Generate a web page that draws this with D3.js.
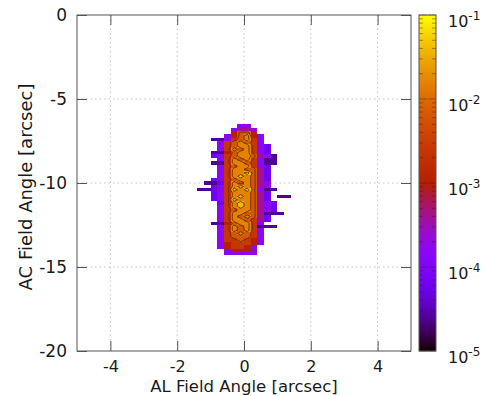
<!DOCTYPE html>
<html>
<head>
<meta charset="utf-8">
<script src="https://cdn.jsdelivr.net/npm/d3@7"></script>
<style>
  body { margin: 0; background: #fff; }
  text { font-family: "DejaVu Sans", sans-serif; fill: #1a1a1a; }
</style>
</head>
<body>
<svg id="chart" width="485" height="396"></svg>
<script>
// axis ticks
var xTicks = [-4, -2, 0, 2, 4];
var yTicks = [0, -5, -10, -15, -20];
var cbExponents = [-1, -2, -3, -4, -5];

// cell grid of the map (arcsec)
var cellX0 = -1.4, cellDx = 0.2, cellY0 = -6.5, cellDy = 0.2;

// log10 value for each level digit used in levelRows
var levelLog = [-5.0, -4.6, -4.2, -3.8, -3.4, -3.0, -2.6, -2.2, -1.8, -1.4];

// one string per row (top to bottom), one char per column, '.' = empty
var levelRows = [
  "......33......",
  ".....3443.....",
  ".....5775.....",
  "....357853....",
  "..11367863....",
  "...3678763....",
  "...36788632...",
  "...36878632...",
  "..115788632...",
  "..2367887431..",
  "...368786311..",
  "..1168876311..",
  "...36788632...",
  "...36887742...",
  "...36889742...",
  "...36898742...",
  "..236788742...",
  ".1126878743...",
  "..236898743...",
  "112369897311..",
  "..236888742...",
  "..236898742.11",
  "..236988742...",
  "...268987432..",
  "...368987432..",
  "...367887432..",
  "...3688774111.",
  "...36878742...",
  "...36887642...",
  "..11578863....",
  "...368786111..",
  "...3687863....",
  "...3678763....",
  "...3677763....",
  "...3667653....",
  "...3566653....",
  "...356653.....",
  "....35553.....",
  "....33333....."
];

// contour levels (log10)
var contourLevels = [-2.4, -2.0, -1.6];

var svg = d3.select("#chart");
var plot = {left: 77, right: 411, top: 15, bottom: 351};

var x = d3.scaleLinear().domain([-5, 5]).range([plot.left, plot.right]);
var y = d3.scaleLinear().domain([0, -20]).range([plot.top, plot.bottom]);
var cb = d3.scaleLog().domain([1e-5, 1e-1]).range([plot.bottom, plot.top]);

// gnuplot default palette (rgbformulae 7,5,15)
function palette(t) {
  t = Math.max(0, Math.min(1, t));
  return d3.rgb(255 * Math.sqrt(t), 255 * t * t * t, 255 * Math.max(0, Math.sin(2 * Math.PI * t)));
}
function colorOf(logv) { return palette((logv + 5) / 4); }

// grid lines
var grid = svg.append("g").attr("stroke", "#c4c4c4").attr("stroke-dasharray", "1.5,3").attr("stroke-width", 1);
xTicks.forEach(function (t) {
  grid.append("line").attr("x1", x(t)).attr("x2", x(t)).attr("y1", plot.top).attr("y2", plot.bottom);
});
yTicks.slice(1, -1).forEach(function (t) {
  grid.append("line").attr("x1", plot.left).attr("x2", plot.right).attr("y1", y(t)).attr("y2", y(t));
});

// map cells
var cells = [];
levelRows.forEach(function (row, j) {
  for (var i = 0; i < row.length; i++) {
    if (row[i] !== ".") cells.push({i: i, j: j, v: levelLog[+row[i]]});
  }
});
svg.append("g").selectAll("rect").data(cells).join("rect")
  .attr("x", function (d) { return x(cellX0 + d.i * cellDx); })
  .attr("y", function (d) { return y(cellY0 - d.j * cellDy); })
  .attr("width", function (d) { return x(cellX0 + (d.i + 1) * cellDx) - x(cellX0 + d.i * cellDx); })
  .attr("height", function (d) { return y(cellY0 - (d.j + 1) * cellDy) - y(cellY0 - d.j * cellDy); })
  .attr("fill", function (d) { return colorOf(d.v); })
  .attr("shape-rendering", "crispEdges");

// contour lines
var n = levelRows[0].length, m = levelRows.length;
var values = [];
levelRows.forEach(function (row) {
  for (var i = 0; i < n; i++) values.push(row[i] === "." ? -6 : levelLog[+row[i]]);
});
var contours = d3.contours().size([n, m]).thresholds(contourLevels)(values);
var proj = d3.geoTransform({
  point: function (px, py) { this.stream.point(x(cellX0 + px * cellDx), y(cellY0 - py * cellDy)); }
});
svg.append("g").selectAll("path").data(contours).join("path")
  .attr("d", d3.geoPath(proj))
  .attr("fill", "none")
  .attr("stroke", "#6a2e00")
  .attr("stroke-width", 0.9);

// axes with inward ticks
var fmt = function (d) { return String(d); };
var gx = svg.append("g").attr("transform", "translate(0," + plot.bottom + ")")
  .call(d3.axisBottom(x).tickValues(xTicks).tickSize(-10).tickPadding(9.5).tickFormat(fmt));
var gxt = svg.append("g").attr("transform", "translate(0," + plot.top + ")")
  .call(d3.axisTop(x).tickValues(xTicks).tickSize(-10).tickFormat(""));
var gy = svg.append("g").attr("transform", "translate(" + plot.left + ",0)")
  .call(d3.axisLeft(y).tickValues(yTicks).tickSize(-10).tickPadding(10).tickFormat(fmt));
var gyr = svg.append("g").attr("transform", "translate(" + plot.right + ",0)")
  .call(d3.axisRight(y).tickValues(yTicks).tickSize(-10).tickFormat(""));
[gx, gxt, gy, gyr].forEach(function (g) {
  g.select(".domain").remove();
  g.selectAll(".tick line").attr("stroke", "#555");
  g.selectAll(".tick text").attr("font-family", "DejaVu Sans").attr("fill", "#1a1a1a");
});
gx.selectAll(".tick text").attr("font-size", 16);
gy.selectAll(".tick text").attr("font-size", 17);

// frame
svg.append("rect")
  .attr("x", plot.left).attr("y", plot.top)
  .attr("width", plot.right - plot.left).attr("height", plot.bottom - plot.top)
  .attr("fill", "none").attr("stroke", "#555").attr("stroke-width", 1);

// axis labels
svg.append("text").attr("x", (plot.left + plot.right) / 2).attr("y", 391.5)
  .attr("text-anchor", "middle").attr("font-size", 16.5).text("AL Field Angle [arcsec]");
svg.append("text").attr("transform", "translate(32," + ((plot.top + plot.bottom) / 2 + 4) + ") rotate(-90)")
  .attr("text-anchor", "middle").attr("font-size", 18).text("AC Field Angle [arcsec]");

// colour box
var cbx = 419, cbw = 17;
var cbg = svg.append("g");
cbg.selectAll("rect").data(d3.range(plot.top, plot.bottom)).join("rect")
  .attr("x", cbx).attr("y", function (p) { return p; })
  .attr("width", cbw).attr("height", 1.2)
  .attr("fill", function (p) { return colorOf(Math.log10(cb.invert(p + 0.5))); });

var cbTicks = [];
cbExponents.forEach(function (e) {
  cbTicks.push({v: Math.pow(10, e), major: true});
  if (e > -5) for (var k = 2; k <= 9; k++) cbTicks.push({v: k * Math.pow(10, e - 1), major: false});
});
var tg = cbg.append("g").attr("stroke", "#3a1a00").attr("stroke-opacity", 0.55).attr("stroke-width", 0.8);
cbTicks.forEach(function (t) {
  var len = t.major ? 8 : 4, py = cb(t.v);
  tg.append("line").attr("x1", cbx).attr("x2", cbx + len).attr("y1", py).attr("y2", py);
  tg.append("line").attr("x1", cbx + cbw - len).attr("x2", cbx + cbw).attr("y1", py).attr("y2", py);
});
cbg.append("rect").attr("x", cbx).attr("y", plot.top).attr("width", cbw).attr("height", plot.bottom - plot.top)
  .attr("fill", "none").attr("stroke", "#555").attr("stroke-width", 1);

cbExponents.forEach(function (e) {
  var t = cbg.append("text").attr("x", 448).attr("y", cb(Math.pow(10, e)) + 12).attr("font-size", 16).text("10");
  t.append("tspan").attr("dy", -7).attr("font-size", 12).text(String(e));
});
</script>
</body>
</html>
